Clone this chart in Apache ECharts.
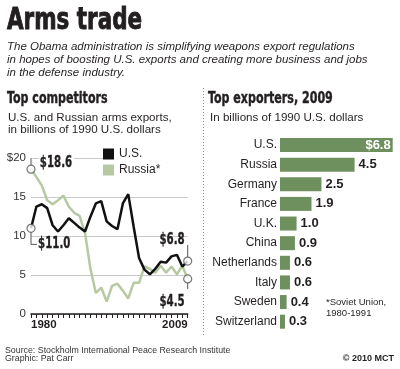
<!DOCTYPE html>
<html><head><meta charset="utf-8">
<script src="https://cdn.jsdelivr.net/npm/echarts@6/dist/echarts.min.js"></script>
<style>html,body{margin:0;padding:0;background:#fff}#c{width:400px;height:369px}</style>
</head><body><div id="c"></div>
<script>
// ---- data ----
const years = [1980,1981,1982,1983,1984,1985,1986,1987,1988,1989,1990,1991,1992,1993,1994,1995,1996,1997,1998,1999,2000,2001,2002,2003,2004,2005,2006,2007,2008,2009];
const usExports = [11.0,13.8,14.1,13.6,11.4,10.6,11.4,12.3,11.7,11.1,10.6,12.5,14.2,14.5,11.9,11.3,10.9,14.2,15.4,11.2,7.2,5.7,5.1,5.8,6.7,6.6,7.4,7.6,6.1,6.8];
const russiaExports = [18.6,17.6,16.5,14.6,14.1,14.6,15.2,13.8,13.0,12.6,10.4,5.8,2.7,3.4,1.6,3.6,3.9,3.0,2.0,4.0,4.0,6.1,5.8,5.3,6.2,5.3,6.1,5.1,6.2,4.5];
const yTicks = [0,5,10,15,20];
const xTickLabels = [1980, 2009];
const countries = ['U.S.','Russia','Germany','France','U.K.','China','Netherlands','Italy','Sweden','Switzerland'];
const exports2009 = [6.8,4.5,2.5,1.9,1.0,0.9,0.6,0.6,0.4,0.3];

const INK = '#231f20';
const GREEN_LINE = '#b6c9a2';
const GREEN_BAR = '#6e8f5e';
const NARROW = "'Liberation Sans Narrow','Arial Narrow','DejaVu Sans Condensed',sans-serif";
const SANS = "'Liberation Sans',Arial,Helvetica,sans-serif";

const chart = echarts.init(document.getElementById('c'), null, {renderer:'canvas'});

function txt(text, x, y, font, opts) {
  opts = opts || {};
  return {
    type:'text', silent:true, z:100, x:x, y:y, scaleX: opts.sx || 1,
    style: Object.assign({text, x:0, y:0, font, fill: INK, align:'left', verticalAlign:'middle', textAlign:'left', textVerticalAlign:'middle'}, opts.style || {})
  };
}
const COND = 0.77;

const staticGraphics = [
  txt('Arms trade', 7, 21, 'bold 31px ' + NARROW, {sx:COND, style:{stroke:INK, lineWidth:0.9}}),
  txt('The Obama administration is simplifying weapons export regulations', 7, 47, 'italic 11.5px ' + SANS),
  txt('in hopes of boosting U.S. exports and creating more business and jobs', 7, 60, 'italic 11.5px ' + SANS),
  txt('in the defense industry.', 7, 73, 'italic 11.5px ' + SANS),
  txt('Top competitors', 7, 99, 'bold 16px ' + NARROW, {sx:COND, style:{stroke:INK, lineWidth:0.4}}),
  txt('U.S. and Russian arms exports,', 8, 117.5, '11.6px ' + SANS),
  txt('in billions of 1990 U.S. dollars', 8, 130, '11.6px ' + SANS),
  txt('Top exporters, 2009', 208, 99, 'bold 16px ' + NARROW, {sx:COND, style:{stroke:INK, lineWidth:0.4}}),
  txt('In billions of 1990 U.S. dollars', 210, 117.5, '11.6px ' + SANS),
  txt('*Soviet Union,', 326, 302, '9.5px ' + SANS),
  txt('1980-1991', 326, 313, '9.5px ' + SANS),
  txt('Source: Stockholm International Peace Research Institute', 5, 351, '8.8px ' + SANS, {style:{fill:'#333'}}),
  txt('Graphic: Pat Carr', 5, 359, '8.8px ' + SANS, {style:{fill:'#333'}}),
  txt('\u00a9 2010 MCT', 394, 359, 'bold 9px ' + SANS, {style:{align:'right', textAlign:'right'}}),
  {type:'line', silent:true, shape:{x1:203.5, y1:88, x2:203.5, y2:336}, style:{stroke:'#888', lineWidth:1, lineDash:[1,2]}}
];

const option = {
  animation:false,
  backgroundColor:'#fff',
  textStyle:{fontFamily:SANS},
  legend:{
    data:['U.S.','Russia*'],
    orient:'vertical', left:103, top:145,
    padding:[3,35,3,0], backgroundColor:'#fff',
    icon:'rect', itemWidth:11, itemHeight:11, itemGap:4,
    textStyle:{fontSize:12, color:INK, fontFamily:SANS},
    selectedMode:false, z:20
  },
  grid:[
    {left:31, right:400-187.7, top:158.3, bottom:369-314},
    {left:280, right:7.3, top:135.2, bottom:37.5}
  ],
  xAxis:[
    {type:'value', gridIndex:0, min:years[0], max:years[years.length-1], interval:1,
     axisLine:{show:true, lineStyle:{color:INK, width:1.5}},
     axisTick:{show:true, length:4, lineStyle:{color:INK, width:1}},
     splitLine:{show:false},
     axisLabel:{
       margin:5, color:INK, fontSize:11.5, fontWeight:'bold', fontFamily:SANS,
       alignMinLabel:'left', alignMaxLabel:'right',
       formatter:v => xTickLabels.indexOf(v) >= 0 ? String(v) : ''
     }},
    {type:'value', gridIndex:1, min:0, max:exports2009[0], show:false}
  ],
  yAxis:[
    {type:'value', gridIndex:0, min:yTicks[0], max:yTicks[yTicks.length-1], interval:5,
     axisLine:{show:false}, axisTick:{show:false},
     splitLine:{show:true, lineStyle:{color:'#c9c9c9', width:1}},
     axisLabel:{margin:5, color:'#333', fontSize:11.5, fontFamily:SANS,
       formatter:v => v === yTicks[yTicks.length-1] ? '$' + v : String(v)}},
    {type:'category', gridIndex:1, data:countries, inverse:true,
     axisLine:{show:false}, axisTick:{show:false}, splitLine:{show:false},
     axisLabel:{margin:3, color:INK, fontSize:12, fontFamily:SANS}}
  ],
  series:[
    {name:'Russia*', type:'line', xAxisIndex:0, yAxisIndex:0,
     data:years.map((y,i)=>[y, russiaExports[i]]),
     showSymbol:false, symbol:'none', lineStyle:{color:GREEN_LINE, width:2.5}, itemStyle:{color:GREEN_LINE}, z:3},
    {name:'U.S.', type:'line', xAxisIndex:0, yAxisIndex:0,
     data:years.map((y,i)=>[y, usExports[i]]),
     showSymbol:false, symbol:'none', lineStyle:{color:'#111', width:2.5}, itemStyle:{color:'#111'}, z:4},
    {name:'ends', type:'scatter', xAxisIndex:0, yAxisIndex:0, z:6,
     data:[
       [years[0], usExports[0]], [years[0], russiaExports[0]],
       [years[years.length-1], usExports[usExports.length-1]], [years[years.length-1], russiaExports[russiaExports.length-1]]
     ],
     symbol:'circle', symbolSize:8,
     itemStyle:{color:'#fff', borderColor:'#555', borderWidth:1.2}},
    {name:'2009', type:'bar', xAxisIndex:1, yAxisIndex:1, barWidth:14,
     data:exports2009.map((v,i)=> i === 0 ? {value:v, label:{position:'insideRight', distance:2, color:'#fff', formatter:'$' + v.toFixed(1)}} : v),
     itemStyle:{color:GREEN_BAR},
     label:{show:true, position:'right', distance:4, color:INK, fontSize:13, fontWeight:'bold', fontFamily:SANS,
       formatter:p => p.value.toFixed(1)}}
  ],
  graphic: staticGraphics
};
chart.setOption(option);

// annotations placed from the data through the chart's own scales
const px = (x, y) => chart.convertToPixel({xAxisIndex:0, yAxisIndex:0}, [x, y]);
const last = years.length - 1;
const topY = px(years[0], yTicks[yTicks.length-1])[1];
const ru0 = px(years[0], russiaExports[0]);
const us0 = px(years[0], usExports[0]);
const usN = px(years[last], usExports[last]);
const ruN = px(years[last], russiaExports[last]);
const LEAD = {stroke:'#555', lineWidth:1};
const labFont = 'bold 15px ' + NARROW;
const fmt = v => '$' + v.toFixed(1);
const LS = 0.76;
const ann = [
  {type:'line', silent:true, z:90, shape:{x1:ru0[0], y1:ru0[1]-4, x2:ru0[0], y2:topY}, style:LEAD},
  txt(fmt(russiaExports[0]), ru0[0]+8, ru0[1]-6, labFont, {sx:LS, style:{backgroundColor:'#fff', padding:[0,2,0,1], stroke:INK, lineWidth:0.3}}),
  {type:'polyline', silent:true, z:90, shape:{points:[[us0[0], us0[1]+4],[us0[0], us0[1]+16],[us0[0]+6, us0[1]+16]]}, style:Object.assign({fill:null}, LEAD)},
  txt(fmt(usExports[0]), us0[0]+7, us0[1]+16, labFont, {sx:LS, style:{stroke:INK, lineWidth:0.3}}),
  {type:'line', silent:true, z:90, shape:{x1:usN[0], y1:usN[1]-4, x2:usN[0], y2:usN[1]-16}, style:LEAD},
  txt(fmt(usExports[last]), usN[0]-3, usN[1]-21, labFont, {sx:LS, style:{align:'right', textAlign:'right', stroke:INK, lineWidth:0.3}}),
  {type:'line', silent:true, z:90, shape:{x1:ruN[0], y1:ruN[1]+4, x2:ruN[0], y2:ruN[1]+10}, style:LEAD},
  txt(fmt(russiaExports[last]), ruN[0]-3, ruN[1]+23, labFont, {sx:LS, style:{align:'right', textAlign:'right', stroke:INK, lineWidth:0.3}})
];
chart.setOption({graphic: staticGraphics.concat(ann)});
</script>
</body></html>
